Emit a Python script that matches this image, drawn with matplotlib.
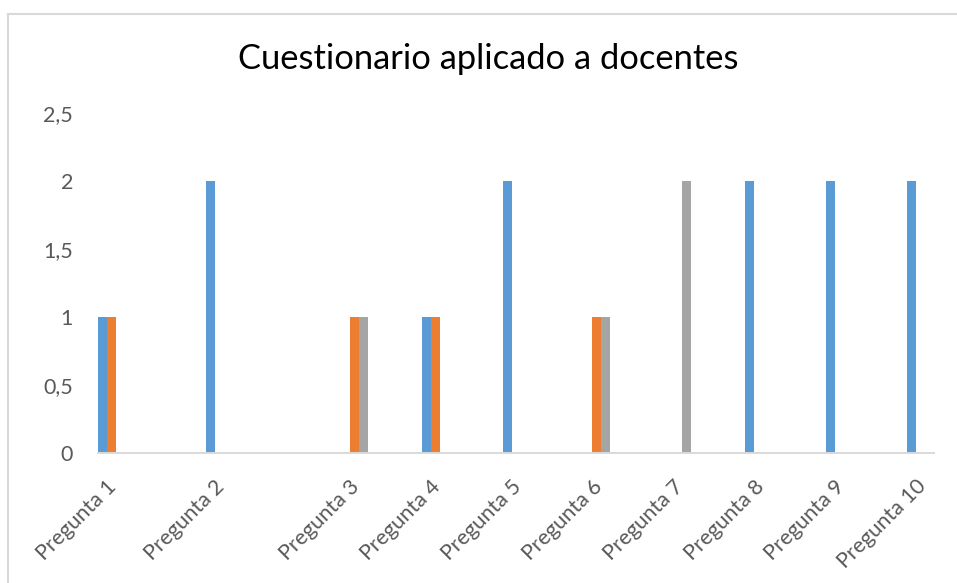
import matplotlib
matplotlib.use("Agg")
import matplotlib.pyplot as plt
import matplotlib.transforms as mtransforms
from matplotlib.lines import Line2D

plt.rcParams['font.family'] = ['Lato', 'DejaVu Sans']

# datos
categorias = ['Pregunta 1', 'Pregunta 2', 'Pregunta 3', 'Pregunta 4', 'Pregunta 5',
              'Pregunta 6', 'Pregunta 7', 'Pregunta 8', 'Pregunta 9', 'Pregunta 10']
serie1 = [1, 2, 0, 1, 2, 0, 0, 2, 2, 2]
serie2 = [1, 0, 1, 1, 0, 1, 0, 0, 0, 0]
serie3 = [0, 0, 1, 0, 0, 1, 2, 0, 0, 0]
yticks = [0, 0.5, 1, 1.5, 2, 2.5]
ytick_labels = ['0', '0,5', '1', '1,5', '2', '2,5']

# posiciones de las categorías (espaciado irregular como en el original)
pos = [0, 1.333, 3, 4, 5, 6, 7, 8, 9, 10]
w = 0.111
colores = ['#5B9BD5', '#ED7D31', '#A5A5A5']
texto = '#595959'

W, H = 957, 583
fig = plt.figure(figsize=(W / 100, H / 100), dpi=100)
ax = fig.add_axes([98 / W, (H - 452.7) / H, (934 - 98) / W, 339.5 / H])

for i, serie in enumerate([serie1, serie2, serie3]):
    xs = [p + (i - 1) * w for p in pos]
    ax.bar(xs, serie, width=w, color=colores[i], linewidth=0)

ax.set_xlim(pos[0] - 1.5 * w, pos[-1] + 1.5 * w)
ax.set_ylim(0, 2.5)
ax.set_yticks(yticks)
ax.set_yticklabels(ytick_labels)
ax.set_xticks(pos)
ax.set_xticklabels(categorias, rotation=45, ha='right', va='top', rotation_mode='anchor')

ax.tick_params(axis='y', length=0, pad=18, labelsize=15.5, labelcolor=texto)
ax.tick_params(axis='x', length=0, pad=17, labelsize=15.5, labelcolor=texto)

# pequeño desplazamiento a la izquierda de las etiquetas del eje x
desplaza = mtransforms.ScaledTranslation(-5 / 100, 0, fig.dpi_scale_trans)
for lbl in ax.get_xticklabels():
    lbl.set_transform(lbl.get_transform() + desplaza)

for s in ['left', 'right', 'top']:
    ax.spines[s].set_visible(False)
ax.spines['bottom'].set_color('#D9D9D9')
ax.spines['bottom'].set_linewidth(1.4)

fig.text(488.5 / W, 1 - 69 / H, 'Cuestionario aplicado a docentes',
         ha='center', va='baseline', fontsize=24.8, color='black')

# borde del área del gráfico
fig.add_artist(Line2D([8 / W, 1], [1 - 13.5 / H, 1 - 13.5 / H], color='#D9D9D9', lw=1.5))
fig.add_artist(Line2D([8 / W, 8 / W], [0, 1 - 13.5 / H], color='#D9D9D9', lw=1.5))

fig.savefig('out.png', dpi=100)
